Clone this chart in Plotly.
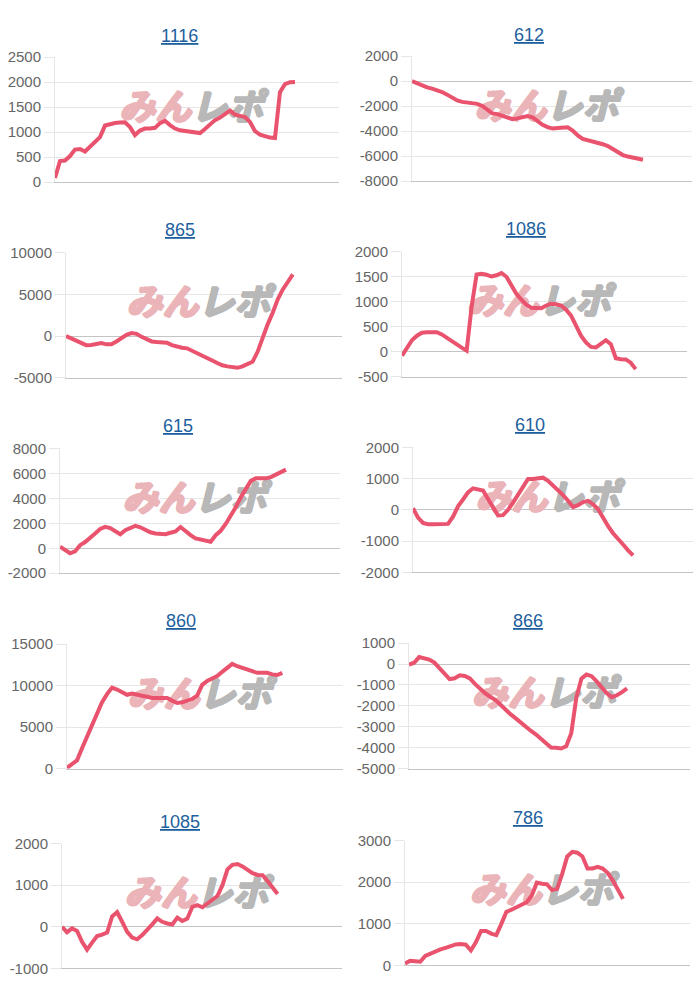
import plotly.graph_objects as go

# ---------------- data ----------------
titles = ["1116", "612", "865", "1086", "615", "610", "860", "866", "1085", "786"]

s_1116 = [80, 420, 430, 520, 650, 660, 610, 700, 800, 900, 1130, 1165, 1180, 1190, 1195,
          1100, 940, 1030, 1070, 1070, 1085, 1180, 1225, 1140, 1070, 1035, 1020, 1000, 975,
          980, 1060, 1160, 1240, 1290, 1350, 1430, 1350, 1330, 1300, 1200, 1020, 950, 910,
          890, 880, 1800, 1960, 2000, 2005]
s_612 = [0, -180, -400, -500, -600, -700, -870, -1080, -1330, -1550, -1660, -1700, -1740,
         -1820, -1990, -2320, -2580, -2640, -2750, -2880, -3040, -2980, -2850, -2800, -2900,
         -3230, -3500, -3680, -3800, -3760, -3700, -3700, -3950, -4350, -4620, -4720, -4790,
         -4900, -5050, -5200, -5420, -5700, -5920, -6040, -6100, -6180, -6300]
s_865 = [0, -280, -570, -870, -1100, -1080, -900, -840, -1000, -980, -650, -250, 150, 350,
         260, -100, -400, -650, -710, -710, -800, -1100, -1300, -1400, -1480, -1750, -2050,
         -2350, -2650, -2950, -3250, -3520, -3650, -3780, -3820, -3650, -3420, -3100, -1900,
         -200, 1400, 2800, 4400, 5600, 6600, 7400]
s_1086 = [-80, 60, 230, 320, 380, 390, 390, 390, 345, 275, 210, 140, 80, 20, 900, 1545,
          1560, 1540, 1505, 1530, 1575, 1500, 1320, 1160, 1040, 940, 880, 870, 870, 925, 960,
          950, 925, 840, 720, 520, 320, 185, 95, 85, 150, 230, 150, -130, -150, -155, -220,
          -350]
s_615 = [130, -180, -400, -250, 250, 500, 800, 1180, 1550, 1720, 1620, 1380, 1120, 1450,
         1660, 1800, 1680, 1440, 1280, 1180, 1130, 1130, 1240, 1350, 1700, 1320, 1050, 790,
         710, 660, 530, 1050, 1400, 1950, 2600, 3280, 4080, 4800, 5400, 5600, 5600, 5600,
         5700, 5930, 6120, 6300]
s_610 = [50, -250, -420, -460, -460, -460, -460, -450, -220, 110, 330, 560, 690, 670, 620,
         345, 85, -180, -170, 0, 230, 500, 750, 990, 990, 1010, 1030, 930, 780, 650, 470,
         290, 90, 150, 250, 290, 180, 20, -260, -520, -750, -910, -1110, -1300, -1460]
s_860 = [120, 510, 1020, 2480, 3860, 5240, 6620, 8000, 8980, 9770, 9530, 9180, 8900, 9060,
         8980, 8790, 8670, 8510, 8510, 8510, 8510, 8200, 7920, 8000, 8200, 8390, 8790, 10090,
         10560, 10830, 11150, 11660, 12210, 12610, 12330, 12140, 11860, 11660, 11540, 11540,
         11540, 11350, 11270, 11540]
s_866 = [-30, 60, 330, 290, 210, 70, -190, -470, -720, -680, -540, -570, -690, -950, -1190,
         -1390, -1560, -1710, -1930, -2190, -2390, -2580, -2790, -3000, -3180, -3350, -3540,
         -3750, -3980, -3990, -4030, -3920, -3300, -1600, -700, -500, -580, -830, -1110,
         -1400, -1580, -1490, -1340, -1160]
s_1085 = [0, -130, -40, -100, -360, -550, -380, -220, -190, -140, 250, 350, 120, -120, -260,
          -300, -200, -80, 60, 200, 120, 80, 55, 220, 140, 200, 480, 520, 470, 560, 640, 740,
          1000, 1380, 1490, 1510, 1450, 1370, 1290, 1245, 1240, 1100, 950, 790]
s_786 = [50, 110, 100, 90, 230, 290, 345, 385, 425, 475, 505, 515, 500, 360, 560, 830, 830,
         765, 730, 1000, 1290, 1340, 1400, 1470, 1520, 1680, 1990, 1965, 1950, 1810, 1840,
         2200, 2620, 2730, 2710, 2620, 2330, 2330, 2370, 2330, 2220, 2040, 1820, 1600]

series = [s_1116, s_612, s_865, s_1086, s_615, s_610, s_860, s_866, s_1085, s_786]

y_ranges = [[0, 2500], [-8000, 2000], [-5000, 10000], [-500, 2000], [-2000, 8000],
            [-2000, 2000], [0, 15000], [-5000, 1000], [-1000, 2000], [0, 3000]]
y_dticks = [500, 2000, 5000, 500, 2000, 1000, 5000, 1000, 1000, 1000]

# ---------------- layout helpers ----------------
W, H = 700, 1000
# plot boxes in page pixels: x0, x1, y_top, y_bottom
boxes = [(55, 339, 49, 176), (412, 692, 48, 175),
         (66, 342, 248, 375), (402, 687, 247, 374),
         (60, 340, 447, 574), (413, 693, 446, 573),
         (67, 343, 646, 773), (409, 690, 645, 773),
         (62, 342, 849, 976), (405, 690, 846, 973)]
# fraction of the plot width covered by the line
span_frac = [0.845, 0.825, 0.822, 0.82, 0.807, 0.786, 0.78, 0.776, 0.77, 0.765]
title_pos = [(179, 27), (529, 26), (180, 225), (526, 224), (178, 424),
             (530, 423), (181, 623), (528, 623), (180, 827), (528, 823)]

LINE = "rgb(233,83,110)"
GRID = "#e6e6e6"
AXIS = "#c4c4c4"
FONT = "Liberation Sans, Arial, sans-serif"
PINK = "#eab4b8"
GRAY = "#b8b8b8"

fig = go.Figure()
layout = dict(width=W, height=H, margin=dict(l=0, r=0, t=0, b=0, pad=0),
              paper_bgcolor="white", plot_bgcolor="white", showlegend=False,
              annotations=[])


def thick(c):
    return (f"text-shadow:1px 0 0 {c},-1px 0 0 {c},0 1px 0 {c},0 -1px 0 {c},"
            f"1px 1px 0 {c},-1px -1px 0 {c}")


for i, vals in enumerate(series):
    n = i + 1
    xs = "x" if n == 1 else f"x{n}"
    ys = "y" if n == 1 else f"y{n}"
    xr = [0, (len(vals) - 1) / span_frac[i]]
    yr = y_ranges[i]
    x0, x1, yt, yb = boxes[i]

    # watermark (drawn first so the line sits on top)
    wm_x = xr[0] + 0.48 * (xr[1] - xr[0])
    wm_y = yr[0] + 0.57 * (yr[1] - yr[0])
    fig.add_trace(go.Scatter(
        x=[wm_x], y=[wm_y], mode="text", xaxis=xs, yaxis=ys, hoverinfo="skip",
        text=[f"<b><i><span style='color:{PINK};{thick(PINK)}'>みん</span>"
              f"<span style='color:{GRAY};{thick(GRAY)}'>レポ</span></i></b>"],
        textfont=dict(family="Noto Sans CJK JP", size=36, weight=900),
        textposition="middle center"))

    fig.add_trace(go.Scatter(
        x=list(range(len(vals))), y=vals, mode="lines", xaxis=xs, yaxis=ys,
        line=dict(color=LINE, width=4), hoverinfo="skip"))

    tickvals = list(range(yr[0], yr[1] + 1, y_dticks[i]))
    ticktext = [str(v) for v in tickvals]

    xkey = "xaxis" if n == 1 else f"xaxis{n}"
    ykey = "yaxis" if n == 1 else f"yaxis{n}"
    layout[xkey] = dict(domain=[x0 / W, x1 / W], anchor=ys, range=xr,
                        showgrid=False, zeroline=False, showticklabels=False,
                        showline=True, linecolor=AXIS, linewidth=1, ticks="",
                        fixedrange=True)
    layout[ykey] = dict(domain=[1 - yb / H, 1 - yt / H], anchor=xs, range=yr,
                        tickmode="array", tickvals=tickvals, ticktext=ticktext,
                        showgrid=True, gridcolor=GRID,
                        gridwidth=1, zeroline=True, zerolinecolor=AXIS,
                        zerolinewidth=1, showline=True, linecolor=GRID,
                        ticks="outside", ticklen=10, tickcolor=GRID,
                        tickfont=dict(family=FONT, size=15, color="#666666"),
                        fixedrange=True)

    tx, ty = title_pos[i]
    layout["annotations"].append(dict(
        text=f"<u>{titles[i]}</u>", xref="paper", yref="paper",
        x=tx / W, y=1 - ty / H, xanchor="center", yanchor="middle",
        showarrow=False, font=dict(family=FONT, size=18, color="#1d5f9e")))

fig.update_layout(**layout)
fig.write_html("out.html")
